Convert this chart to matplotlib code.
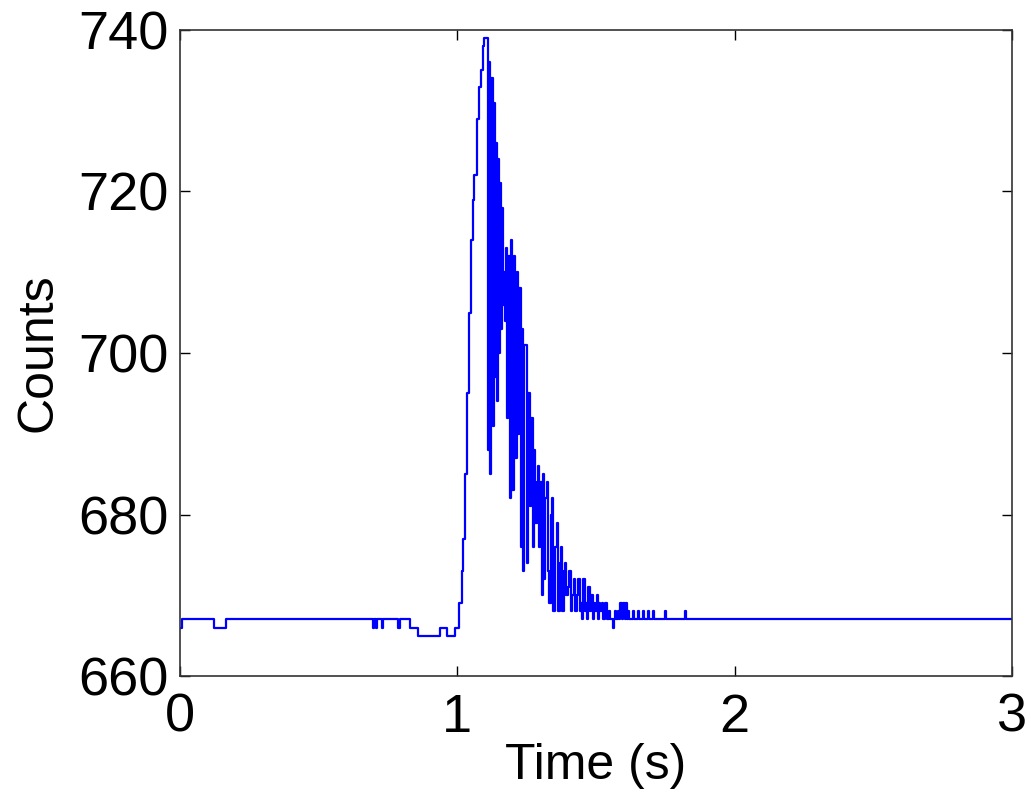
import numpy as np
import matplotlib.pyplot as plt

# step changes of the count signal (time in s, counts)
t_base = [0.000, 0.008, 0.124, 0.165, 0.697, 0.700, 0.706, 0.709, 0.727, 0.731,
          0.786, 0.793, 0.829, 0.859, 0.9375, 0.962, 0.993]
c_base = [666, 667, 666, 667, 666, 667, 666, 667, 666, 667,
          666, 667, 666, 665, 666, 665, 666]

t_rise = [1.007, 1.016, 1.022, 1.028, 1.036, 1.042, 1.048, 1.055, 1.061, 1.070,
          1.078, 1.085, 1.091, 1.097]
c_rise = [669, 673, 677, 685, 695, 705, 714, 719, 722, 729,
          733, 735, 738, 739]

t_osc = [1.1106, 1.1142, 1.1178, 1.1214, 1.1268, 1.1304, 1.1358, 1.1394, 1.1430, 1.1466,
         1.1503, 1.1539, 1.1575, 1.1611, 1.1658, 1.1683, 1.1719, 1.1755, 1.1791, 1.1827,
         1.1881, 1.1917, 1.1971, 1.2025, 1.2079, 1.2134, 1.2188, 1.2224, 1.2278, 1.2332,
         1.2360, 1.2404, 1.2501, 1.2559, 1.2620, 1.2656, 1.2718, 1.2747, 1.2801, 1.2855,
         1.2891, 1.2927, 1.2981, 1.3035, 1.3078, 1.3107, 1.3161, 1.3223, 1.3269, 1.3316,
         1.3360, 1.3403, 1.3460, 1.3522, 1.3583, 1.3630, 1.3684, 1.3738, 1.3774, 1.3828,
         1.3882, 1.3918, 1.3972, 1.4037, 1.4081, 1.4134, 1.4207, 1.4243, 1.4297, 1.4362,
         1.4405, 1.4459, 1.4495, 1.4531, 1.4585, 1.4640, 1.4676, 1.4723, 1.4766, 1.4820,
         1.4874, 1.4928, 1.4964, 1.5025, 1.5054, 1.5108, 1.5144, 1.5198, 1.5253, 1.5325,
         1.5397, 1.5469, 1.5505, 1.5602, 1.5631, 1.5685, 1.5721, 1.5793, 1.5829, 1.5866,
         1.5920, 1.5974, 1.6028, 1.6064, 1.6100]
c_osc = [688, 736, 685, 734, 691, 731, 697, 726, 694, 724,
         700, 721, 703, 718, 706, 710, 704, 713, 692, 712,
         682, 714, 683, 712, 687, 710, 690, 708, 676, 703,
         673, 701, 674, 695, 681, 692, 676, 688, 679, 684,
         686, 676, 684, 670, 685, 672, 682, 684, 673, 669,
         680, 682, 668, 676, 679, 668, 674, 676, 668, 673,
         674, 670, 671, 673, 668, 670, 672, 668, 670, 672,
         668, 669, 667, 672, 668, 669, 667, 671, 668, 670,
         667, 669, 668, 670, 667, 669, 668, 669, 667, 669,
         667, 668, 667, 666, 667, 668, 667, 668, 667, 669,
         667, 669, 667, 669, 667]

t_tail = [1.6154, 1.6190, 1.6334, 1.6370, 1.6514, 1.6551, 1.6695, 1.6731, 1.6875, 1.6911,
          1.7055, 1.7091, 1.7488, 1.7524, 1.8209, 1.8245, 3.000]
c_tail = [668, 667, 668, 667, 668, 667, 668, 667, 668, 667,
          668, 667, 668, 667, 668, 667, 667]

t = np.array(t_base + t_rise + t_osc + t_tail)
counts = np.array(c_base + c_rise + c_osc + c_tail)

plt.rcParams['font.family'] = ['Liberation Sans', 'DejaVu Sans']

fig = plt.figure(figsize=(10.31, 8.02), dpi=100)
ax = fig.add_axes([0.1746, 0.1571, 0.8070, 0.8055])

ax.plot(t, counts, color=(0, 0, 1), lw=1.6, drawstyle='steps-post')

ax.set_xlim(0, 3)
ax.set_ylim(660, 740)
ax.set_xticks([0, 1, 2, 3])
ax.set_yticks([660, 680, 700, 720, 740])
ax.tick_params(direction='in', length=7, width=1, top=True, right=True,
               labelsize=39, pad=8)
ax.tick_params(axis='x', pad=12)
for s in ax.spines.values():
    s.set_linewidth(1.2)
    s.set_color('#333333')

ax.set_xlabel('Time (s)', fontsize=36, labelpad=0)
ax.set_ylabel('Counts', fontsize=36, labelpad=12)

fig.savefig('out.png', dpi=100)
